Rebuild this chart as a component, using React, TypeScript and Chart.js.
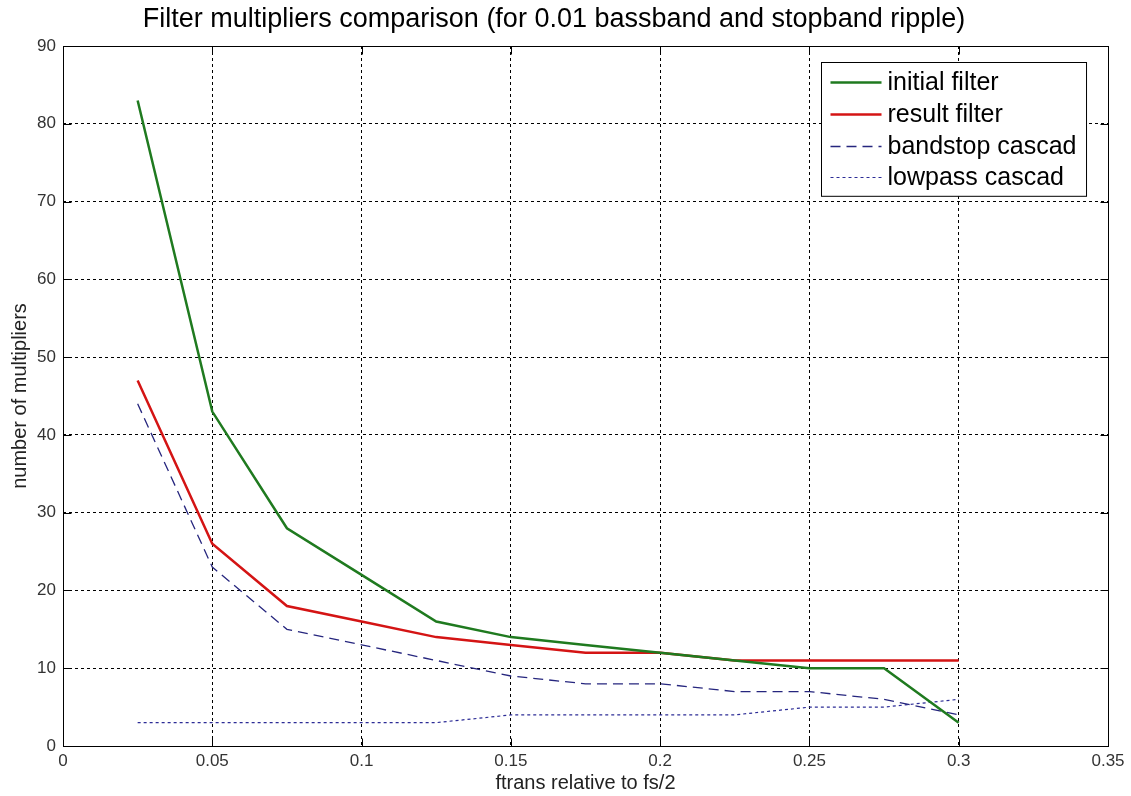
import React, { useEffect, useRef } from 'react';
import { Chart, registerables } from 'chart.js';

Chart.register(...registerables);

const FONT = '"Liberation Sans", Arial, Helvetica, sans-serif';

const chartTitle = 'Filter multipliers comparison (for 0.01 bassband and stopband ripple)';
const xAxisLabel = 'ftrans relative to fs/2';
const yAxisLabel = 'number of multipliers';

const xValues = [0.025, 0.05, 0.075, 0.1, 0.125, 0.15, 0.175, 0.2, 0.225, 0.25, 0.275, 0.3];
const initialFilter = [83, 43, 28, 22, 16, 14, 13, 12, 11, 10, 10, 3];
const resultFilter = [47, 26, 18, 16, 14, 13, 12, 12, 11, 11, 11, 11];
const bandstopCascad = [44, 23, 15, 13, 11, 9, 8, 8, 7, 7, 6, 4];
const lowpassCascad = [3, 3, 3, 3, 3, 4, 4, 4, 4, 5, 5, 6];

const seriesNames = ['initial filter', 'result filter', 'bandstop cascad', 'lowpass cascad'];
const seriesColors = ['#1f7a1f', '#d41414', '#26267e', '#2c2c96'];
const seriesWidths = [2.5, 2.5, 1.3, 1.2];
const seriesDashes: number[][] = [[], [], [10, 6], [3, 3]];

const xTickLabels = ['0', '0.05', '0.1', '0.15', '0.2', '0.25', '0.3', '0.35'];
const yTickLabels = ['0', '10', '20', '30', '40', '50', '60', '70', '80', '90'];

const toPoints = (ys: number[]) => ys.map((y, i) => ({ x: xValues[i], y }));

const framePlugin = {
  id: 'matlabFrame',
  afterDraw(chart: any) {
    const { ctx, chartArea } = chart;
    const { left, right, top, bottom } = chartArea;
    const xs = chart.scales.x;
    const ys = chart.scales.y;
    ctx.save();
    ctx.setLineDash([]);
    ctx.strokeStyle = '#000';
    ctx.lineWidth = 1;
    const L = Math.round(left) + 0.5;
    const R = Math.round(right) + 0.5;
    const T = Math.round(top) + 0.5;
    const B = Math.round(bottom) + 0.5;
    ctx.strokeRect(L, T, R - L, B - T);
    const tl = 8;
    ctx.beginPath();
    xs.ticks.forEach((t: any) => {
      const px = Math.round(xs.getPixelForValue(t.value)) + 0.5;
      ctx.moveTo(px, B);
      ctx.lineTo(px, B - tl);
      ctx.moveTo(px, T);
      ctx.lineTo(px, T + tl);
    });
    ys.ticks.forEach((t: any) => {
      const py = Math.round(ys.getPixelForValue(t.value)) + 0.5;
      ctx.moveTo(L, py);
      ctx.lineTo(L + tl, py);
      ctx.moveTo(R, py);
      ctx.lineTo(R - tl, py);
    });
    ctx.stroke();

    // legend box inside the plot, top right
    const fontSize = 25;
    ctx.font = `${fontSize}px ${FONT}`;
    const names = chart.data.datasets.map((d: any) => d.label);
    const maxW = Math.max(...names.map((n: string) => ctx.measureText(n).width));
    const padL = 9;
    const sample = 51;
    const gap = 6;
    const padR = 10;
    const rowH = 31.7;
    const boxW = padL + sample + gap + maxW + padR;
    const boxH = rowH * names.length + 7;
    const bx = Math.round(right - 22 - boxW) + 0.5;
    const by = Math.round(top + 16) + 0.5;
    ctx.fillStyle = '#fff';
    ctx.fillRect(bx, by, boxW, boxH);
    ctx.strokeStyle = '#000';
    ctx.lineWidth = 1;
    ctx.strokeRect(bx, by, boxW, boxH);
    chart.data.datasets.forEach((d: any, i: number) => {
      const cy = by + 4 + rowH * (i + 0.5);
      ctx.save();
      ctx.strokeStyle = d.borderColor;
      ctx.lineWidth = d.borderWidth;
      ctx.setLineDash(d.borderDash || []);
      ctx.beginPath();
      ctx.moveTo(bx + padL, Math.round(cy) + 0.5);
      ctx.lineTo(bx + padL + sample, Math.round(cy) + 0.5);
      ctx.stroke();
      ctx.restore();
      ctx.fillStyle = '#000';
      ctx.textBaseline = 'middle';
      ctx.textAlign = 'left';
      ctx.fillText(d.label, bx + padL + sample + gap, cy + 1);
    });
    ctx.restore();
  },
};

export default function App() {
  const canvasRef = useRef<HTMLCanvasElement | null>(null);

  useEffect(() => {
    const canvas = canvasRef.current;
    if (!canvas) return;
    const seriesData = [initialFilter, resultFilter, bandstopCascad, lowpassCascad];
    const chart = new Chart(canvas, {
      type: 'line',
      data: {
        datasets: seriesData.map((ys, i) => ({
          label: seriesNames[i],
          data: toPoints(ys),
          borderColor: seriesColors[i],
          backgroundColor: seriesColors[i],
          borderWidth: seriesWidths[i],
          borderDash: seriesDashes[i],
          pointRadius: 0,
          tension: 0,
          fill: false,
        })),
      },
      options: {
        animation: false,
        responsive: false,
        maintainAspectRatio: false,
        events: [],
        layout: { padding: { left: 0, right: 23, top: 0, bottom: 0 } },
        plugins: {
          legend: { display: false },
          tooltip: { enabled: false },
          title: {
            display: true,
            text: chartTitle,
            color: '#000',
            font: { family: FONT, size: 27, weight: 'normal' },
            padding: { top: 3, bottom: 10.6 },
          },
        },
        scales: {
          x: {
            type: 'linear',
            min: 0,
            max: 0.35,
            afterFit: (s: any) => {
              s.height = 50;
            },
            ticks: {
              stepSize: 0.05,
              color: '#333',
              padding: 5,
              maxRotation: 0,
              autoSkip: false,
              font: { family: FONT, size: 17 },
              callback: (_v: any, i: number) => xTickLabels[i],
            },
            grid: { color: '#000', lineWidth: 1, drawTicks: false },
            border: { display: false, dash: [3, 3] },
            title: {
              display: true,
              text: xAxisLabel,
              color: '#222',
              font: { family: FONT, size: 20 },
              padding: { top: 0, bottom: 1 },
            },
          },
          y: {
            type: 'linear',
            min: 0,
            max: 90,
            afterFit: (s: any) => {
              s.width = 63;
            },
            ticks: {
              stepSize: 10,
              color: '#333',
              padding: 7,
              autoSkip: false,
              font: { family: FONT, size: 17 },
              callback: (_v: any, i: number) => yTickLabels[i],
            },
            grid: { color: '#000', lineWidth: 1, drawTicks: false },
            border: { display: false, dash: [3, 3] },
            title: {
              display: true,
              text: yAxisLabel,
              color: '#222',
              font: { family: FONT, size: 20 },
              padding: { top: 8, bottom: 0 },
            },
          },
        },
      },
      plugins: [framePlugin],
    } as any);
    return () => chart.destroy();
  }, []);

  return (
    <div
      style={{
        position: 'fixed',
        left: 0,
        top: 0,
        width: 1131,
        height: 796,
        background: '#fff',
      }}
    >
      <canvas ref={canvasRef} width={1131} height={796} style={{ display: 'block', width: 1131, height: 796 }} />
    </div>
  );
}
